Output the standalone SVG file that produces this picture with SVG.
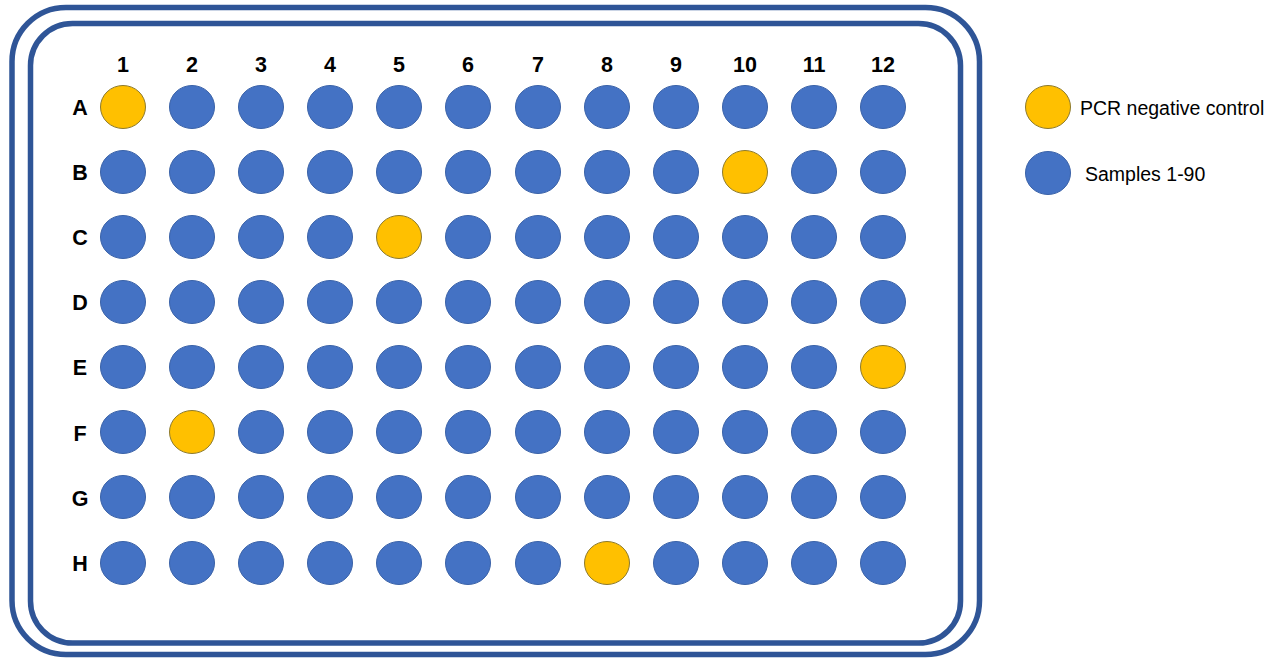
<svg xmlns="http://www.w3.org/2000/svg" width="1285" height="658" viewBox="0 0 1285 658">
<style>
.frame{fill:none;stroke:#2F5597;stroke-width:5.5}
.s{fill:#4472C4;stroke:#3A62A8;stroke-width:1}
.c{fill:#FFC000;stroke:#8C7A2E;stroke-width:1}
.lbl{font-family:"Liberation Sans",Arial,sans-serif;font-weight:bold;font-size:21.5px;fill:#000;text-anchor:middle}
.leg{font-family:"Liberation Sans",Arial,sans-serif;font-size:19.5px;fill:#000}
</style>
<rect width="1285" height="658" fill="#fff"/>
<g id="plate">
<rect class="frame" x="12" y="7.5" width="967.5" height="647" rx="54"/>
<rect class="frame" x="30.5" y="23.5" width="930" height="619.5" rx="42"/>
</g>
<g id="col-labels">
<text class="lbl" x="123" y="72">1</text>
<text class="lbl" x="192" y="72">2</text>
<text class="lbl" x="261" y="72">3</text>
<text class="lbl" x="330" y="72">4</text>
<text class="lbl" x="399" y="72">5</text>
<text class="lbl" x="468" y="72">6</text>
<text class="lbl" x="538" y="72">7</text>
<text class="lbl" x="607" y="72">8</text>
<text class="lbl" x="676" y="72">9</text>
<text class="lbl" x="745" y="72">10</text>
<text class="lbl" x="814" y="72">11</text>
<text class="lbl" x="883" y="72">12</text>
</g>
<g id="row-labels">
<text class="lbl" x="80" y="115">A</text>
<text class="lbl" x="80" y="180">B</text>
<text class="lbl" x="80" y="245">C</text>
<text class="lbl" x="80" y="310">D</text>
<text class="lbl" x="80" y="375">E</text>
<text class="lbl" x="80" y="441">F</text>
<text class="lbl" x="80" y="506">G</text>
<text class="lbl" x="80" y="571">H</text>
</g>
<g id="wells">
<g id="row-A">
<ellipse class="c" cx="123" cy="107" rx="22.5" ry="21.5"/>
<ellipse class="s" cx="192" cy="107" rx="22.5" ry="21.5"/>
<ellipse class="s" cx="261" cy="107" rx="22.5" ry="21.5"/>
<ellipse class="s" cx="330" cy="107" rx="22.5" ry="21.5"/>
<ellipse class="s" cx="399" cy="107" rx="22.5" ry="21.5"/>
<ellipse class="s" cx="468" cy="107" rx="22.5" ry="21.5"/>
<ellipse class="s" cx="538" cy="107" rx="22.5" ry="21.5"/>
<ellipse class="s" cx="607" cy="107" rx="22.5" ry="21.5"/>
<ellipse class="s" cx="676" cy="107" rx="22.5" ry="21.5"/>
<ellipse class="s" cx="745" cy="107" rx="22.5" ry="21.5"/>
<ellipse class="s" cx="814" cy="107" rx="22.5" ry="21.5"/>
<ellipse class="s" cx="883" cy="107" rx="22.5" ry="21.5"/>
</g>
<g id="row-B">
<ellipse class="s" cx="123" cy="172" rx="22.5" ry="21.5"/>
<ellipse class="s" cx="192" cy="172" rx="22.5" ry="21.5"/>
<ellipse class="s" cx="261" cy="172" rx="22.5" ry="21.5"/>
<ellipse class="s" cx="330" cy="172" rx="22.5" ry="21.5"/>
<ellipse class="s" cx="399" cy="172" rx="22.5" ry="21.5"/>
<ellipse class="s" cx="468" cy="172" rx="22.5" ry="21.5"/>
<ellipse class="s" cx="538" cy="172" rx="22.5" ry="21.5"/>
<ellipse class="s" cx="607" cy="172" rx="22.5" ry="21.5"/>
<ellipse class="s" cx="676" cy="172" rx="22.5" ry="21.5"/>
<ellipse class="c" cx="745" cy="172" rx="22.5" ry="21.5"/>
<ellipse class="s" cx="814" cy="172" rx="22.5" ry="21.5"/>
<ellipse class="s" cx="883" cy="172" rx="22.5" ry="21.5"/>
</g>
<g id="row-C">
<ellipse class="s" cx="123" cy="237" rx="22.5" ry="21.5"/>
<ellipse class="s" cx="192" cy="237" rx="22.5" ry="21.5"/>
<ellipse class="s" cx="261" cy="237" rx="22.5" ry="21.5"/>
<ellipse class="s" cx="330" cy="237" rx="22.5" ry="21.5"/>
<ellipse class="c" cx="399" cy="237" rx="22.5" ry="21.5"/>
<ellipse class="s" cx="468" cy="237" rx="22.5" ry="21.5"/>
<ellipse class="s" cx="538" cy="237" rx="22.5" ry="21.5"/>
<ellipse class="s" cx="607" cy="237" rx="22.5" ry="21.5"/>
<ellipse class="s" cx="676" cy="237" rx="22.5" ry="21.5"/>
<ellipse class="s" cx="745" cy="237" rx="22.5" ry="21.5"/>
<ellipse class="s" cx="814" cy="237" rx="22.5" ry="21.5"/>
<ellipse class="s" cx="883" cy="237" rx="22.5" ry="21.5"/>
</g>
<g id="row-D">
<ellipse class="s" cx="123" cy="302" rx="22.5" ry="21.5"/>
<ellipse class="s" cx="192" cy="302" rx="22.5" ry="21.5"/>
<ellipse class="s" cx="261" cy="302" rx="22.5" ry="21.5"/>
<ellipse class="s" cx="330" cy="302" rx="22.5" ry="21.5"/>
<ellipse class="s" cx="399" cy="302" rx="22.5" ry="21.5"/>
<ellipse class="s" cx="468" cy="302" rx="22.5" ry="21.5"/>
<ellipse class="s" cx="538" cy="302" rx="22.5" ry="21.5"/>
<ellipse class="s" cx="607" cy="302" rx="22.5" ry="21.5"/>
<ellipse class="s" cx="676" cy="302" rx="22.5" ry="21.5"/>
<ellipse class="s" cx="745" cy="302" rx="22.5" ry="21.5"/>
<ellipse class="s" cx="814" cy="302" rx="22.5" ry="21.5"/>
<ellipse class="s" cx="883" cy="302" rx="22.5" ry="21.5"/>
</g>
<g id="row-E">
<ellipse class="s" cx="123" cy="367" rx="22.5" ry="21.5"/>
<ellipse class="s" cx="192" cy="367" rx="22.5" ry="21.5"/>
<ellipse class="s" cx="261" cy="367" rx="22.5" ry="21.5"/>
<ellipse class="s" cx="330" cy="367" rx="22.5" ry="21.5"/>
<ellipse class="s" cx="399" cy="367" rx="22.5" ry="21.5"/>
<ellipse class="s" cx="468" cy="367" rx="22.5" ry="21.5"/>
<ellipse class="s" cx="538" cy="367" rx="22.5" ry="21.5"/>
<ellipse class="s" cx="607" cy="367" rx="22.5" ry="21.5"/>
<ellipse class="s" cx="676" cy="367" rx="22.5" ry="21.5"/>
<ellipse class="s" cx="745" cy="367" rx="22.5" ry="21.5"/>
<ellipse class="s" cx="814" cy="367" rx="22.5" ry="21.5"/>
<ellipse class="c" cx="883" cy="367" rx="22.5" ry="21.5"/>
</g>
<g id="row-F">
<ellipse class="s" cx="123" cy="432" rx="22.5" ry="21.5"/>
<ellipse class="c" cx="192" cy="432" rx="22.5" ry="21.5"/>
<ellipse class="s" cx="261" cy="432" rx="22.5" ry="21.5"/>
<ellipse class="s" cx="330" cy="432" rx="22.5" ry="21.5"/>
<ellipse class="s" cx="399" cy="432" rx="22.5" ry="21.5"/>
<ellipse class="s" cx="468" cy="432" rx="22.5" ry="21.5"/>
<ellipse class="s" cx="538" cy="432" rx="22.5" ry="21.5"/>
<ellipse class="s" cx="607" cy="432" rx="22.5" ry="21.5"/>
<ellipse class="s" cx="676" cy="432" rx="22.5" ry="21.5"/>
<ellipse class="s" cx="745" cy="432" rx="22.5" ry="21.5"/>
<ellipse class="s" cx="814" cy="432" rx="22.5" ry="21.5"/>
<ellipse class="s" cx="883" cy="432" rx="22.5" ry="21.5"/>
</g>
<g id="row-G">
<ellipse class="s" cx="123" cy="497" rx="22.5" ry="21.5"/>
<ellipse class="s" cx="192" cy="497" rx="22.5" ry="21.5"/>
<ellipse class="s" cx="261" cy="497" rx="22.5" ry="21.5"/>
<ellipse class="s" cx="330" cy="497" rx="22.5" ry="21.5"/>
<ellipse class="s" cx="399" cy="497" rx="22.5" ry="21.5"/>
<ellipse class="s" cx="468" cy="497" rx="22.5" ry="21.5"/>
<ellipse class="s" cx="538" cy="497" rx="22.5" ry="21.5"/>
<ellipse class="s" cx="607" cy="497" rx="22.5" ry="21.5"/>
<ellipse class="s" cx="676" cy="497" rx="22.5" ry="21.5"/>
<ellipse class="s" cx="745" cy="497" rx="22.5" ry="21.5"/>
<ellipse class="s" cx="814" cy="497" rx="22.5" ry="21.5"/>
<ellipse class="s" cx="883" cy="497" rx="22.5" ry="21.5"/>
</g>
<g id="row-H">
<ellipse class="s" cx="123" cy="563" rx="22.5" ry="21.5"/>
<ellipse class="s" cx="192" cy="563" rx="22.5" ry="21.5"/>
<ellipse class="s" cx="261" cy="563" rx="22.5" ry="21.5"/>
<ellipse class="s" cx="330" cy="563" rx="22.5" ry="21.5"/>
<ellipse class="s" cx="399" cy="563" rx="22.5" ry="21.5"/>
<ellipse class="s" cx="468" cy="563" rx="22.5" ry="21.5"/>
<ellipse class="s" cx="538" cy="563" rx="22.5" ry="21.5"/>
<ellipse class="c" cx="607" cy="563" rx="22.5" ry="21.5"/>
<ellipse class="s" cx="676" cy="563" rx="22.5" ry="21.5"/>
<ellipse class="s" cx="745" cy="563" rx="22.5" ry="21.5"/>
<ellipse class="s" cx="814" cy="563" rx="22.5" ry="21.5"/>
<ellipse class="s" cx="883" cy="563" rx="22.5" ry="21.5"/>
</g>
</g>
<g id="legend-control">
<ellipse class="c" cx="1048" cy="107" rx="22.5" ry="21.5"/>
<text class="leg" x="1080" y="115">PCR negative control</text>
</g>
<g id="legend-samples">
<ellipse class="s" cx="1048" cy="173" rx="22.5" ry="21.5"/>
<text class="leg" x="1085" y="181">Samples 1-90</text>
</g>
</svg>
